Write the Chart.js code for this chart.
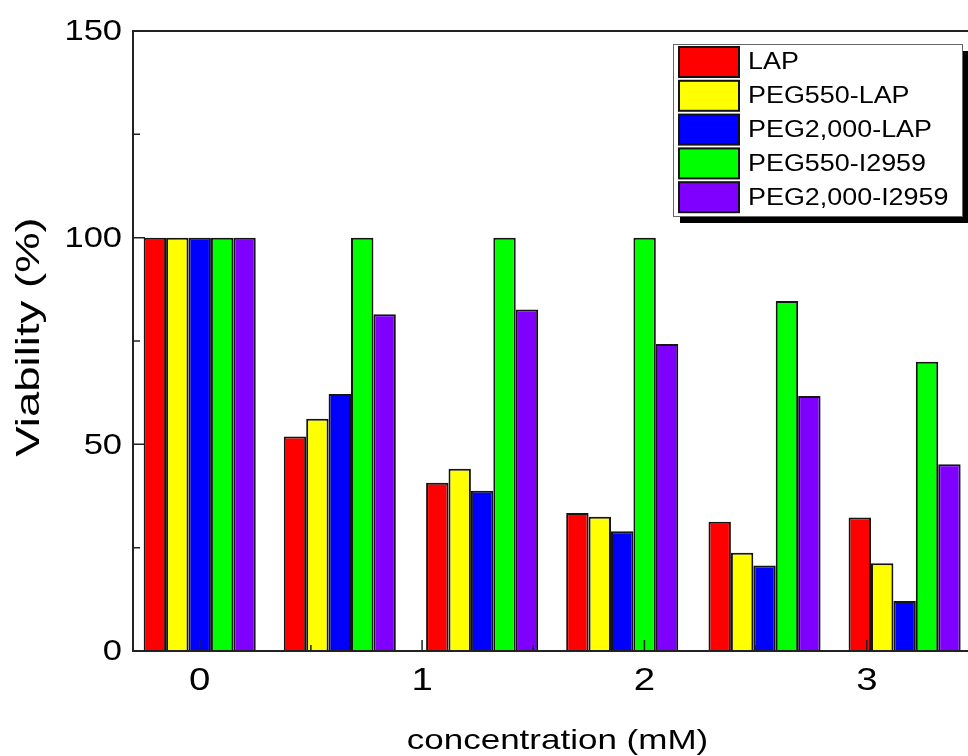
<!DOCTYPE html>
<html>
<head>
<meta charset="utf-8">
<script src="https://cdn.jsdelivr.net/npm/chart.js@4.4.0/dist/chart.umd.min.js"></script>
<style>
  html, body { margin: 0; padding: 0; background: #fff; overflow: hidden; }
  #wrap { width: 1000px; height: 756px; }
</style>
</head>
<body>
<div id="wrap"><canvas id="myChart" width="1000" height="756"></canvas></div>
<script>
// data
const concentrations = [0, 0.63, 1.27, 1.9, 2.54, 3.17];
const seriesNames = ["LAP", "PEG550-LAP", "PEG2,000-LAP", "PEG550-I2959", "PEG2,000-I2959"];
const lap = [100, 51.9, 40.7, 33.4, 31.3, 32.3];
const peg550Lap = [100, 56.2, 44.1, 32.5, 23.8, 21.2];
const peg2000Lap = [100, 62.2, 38.8, 29.0, 20.7, 12.1];
const peg550I2959 = [100, 100, 100, 100, 84.7, 70.0];
const peg2000I2959 = [100, 81.5, 82.6, 74.3, 61.7, 45.2];
const seriesColors = ["#ff0000", "#ffff00", "#0000ff", "#00ff00", "#8000ff"];
const xTickLabels = [0, 1, 2, 3];
const xMinorTicks = [0.5, 1.5, 2.5];
const yTickLabels = [0, 50, 100, 150];
const yMinorTicks = [25, 75, 125];

const FONT = '"Liberation Sans", Arial, sans-serif';
const allSeries = [lap, peg550Lap, peg2000Lap, peg550I2959, peg2000I2959];

// text drawn a bit wider than the font, like the original figure
function wideText(ctx, str, x, y, size, sx, align, baseline, rot) {
  ctx.save();
  ctx.translate(x, y);
  if (rot) ctx.rotate(rot);
  ctx.scale(sx, 1);
  ctx.font = size + "px " + FONT;
  ctx.fillStyle = "#000";
  ctx.textAlign = align;
  ctx.textBaseline = baseline;
  ctx.fillText(str, 0, 0);
  ctx.restore();
}

const frame = {
  id: "frame",
  afterDraw(chart) {
    const ctx = chart.ctx;
    const a = chart.chartArea;
    const xs = chart.scales.x;
    const ys = chart.scales.y;
    const W = chart.width;

    ctx.save();
    ctx.strokeStyle = "#222";
    ctx.lineWidth = 2;
    ctx.beginPath();
    ctx.moveTo(W, a.top); ctx.lineTo(a.left, a.top);
    ctx.lineTo(a.left, a.bottom); ctx.lineTo(W, a.bottom);
    ctx.stroke();

    // inward ticks
    ctx.lineWidth = 1.5;
    ctx.beginPath();
    yTickLabels.forEach(v => { const p = ys.getPixelForValue(v); ctx.moveTo(a.left, p); ctx.lineTo(a.left + 12, p); });
    yMinorTicks.forEach(v => { const p = ys.getPixelForValue(v); ctx.moveTo(a.left, p); ctx.lineTo(a.left + 7, p); });
    xTickLabels.forEach(v => { const p = xs.getPixelForValue(v); ctx.moveTo(p, a.bottom); ctx.lineTo(p, a.bottom - 11); });
    xMinorTicks.forEach(v => { const p = xs.getPixelForValue(v); ctx.moveTo(p, a.bottom); ctx.lineTo(p, a.bottom - 6); });
    ctx.stroke();
    ctx.restore();

    // tick labels
    yTickLabels.forEach(v => wideText(ctx, String(v), a.left - 11, ys.getPixelForValue(v) + 1, 30, 1.15, "right", "middle"));
    xTickLabels.forEach(v => wideText(ctx, String(v), xs.getPixelForValue(v), a.bottom + 39, 32, 1.2, "center", "alphabetic"));

    // axis titles
    wideText(ctx, "concentration (mM)", (a.left + a.right) / 2 + 2, 749, 28, 1.25, "center", "alphabetic");
    wideText(ctx, "Viability (%)", 30, (a.top + a.bottom) / 2 - 4, 33, 1.38, "center", "middle", -Math.PI / 2);

    // legend with drop shadow
    const lx = 673, ly = 44, lw = 289, lh = 172;
    ctx.save();
    ctx.fillStyle = "#000";
    ctx.fillRect(lx + 7, ly + 7, lw, lh);
    ctx.fillStyle = "#fff";
    ctx.fillRect(lx, ly, lw, lh);
    ctx.strokeStyle = "#666";
    ctx.lineWidth = 1;
    ctx.strokeRect(lx + 0.5, ly + 0.5, lw, lh);
    chart.data.datasets.forEach((ds, i) => {
      const cy = 62 + i * 33.8;
      ctx.fillStyle = ds.backgroundColor;
      ctx.fillRect(679, cy - 15, 60, 30);
      ctx.strokeStyle = "#111";
      ctx.lineWidth = 2;
      ctx.strokeRect(679, cy - 15, 60, 30);
      wideText(ctx, ds.label, 748, cy + 1, 23, 1.17, "left", "middle");
    });
    ctx.restore();
  }
};

const ctx = document.getElementById("myChart").getContext("2d");
const myChart = new Chart(ctx, {
  type: "bar",
  data: {
    datasets: allSeries.map((vals, i) => ({
      label: seriesNames[i],
      data: concentrations.map((c, j) => ({ x: c, y: vals[j] })),
      backgroundColor: seriesColors[i],
      borderColor: "#151515",
      borderWidth: 2,
      categoryPercentage: 0.8,
      barPercentage: 1.0,
    })),
  },
  options: {
    responsive: false,
    animation: false,
    layout: { padding: { left: 0, right: 22, top: 31, bottom: 0 } },
    plugins: { legend: { display: false }, tooltip: { enabled: false } },
    scales: {
      x: {
        type: "linear",
        min: -0.3,
        max: 3.5,
        offset: false,
        grid: { display: false, offset: false },
        border: { display: false },
        ticks: { display: false, stepSize: 1, includeBounds: false },
        afterFit(s) { s.height = 105; },
      },
      y: {
        min: 0,
        max: 150,
        grid: { display: false },
        border: { display: false },
        ticks: { display: false },
        afterFit(s) { s.width = 133; },
      },
    },
  },
  plugins: [frame],
});
</script>
</body>
</html>
